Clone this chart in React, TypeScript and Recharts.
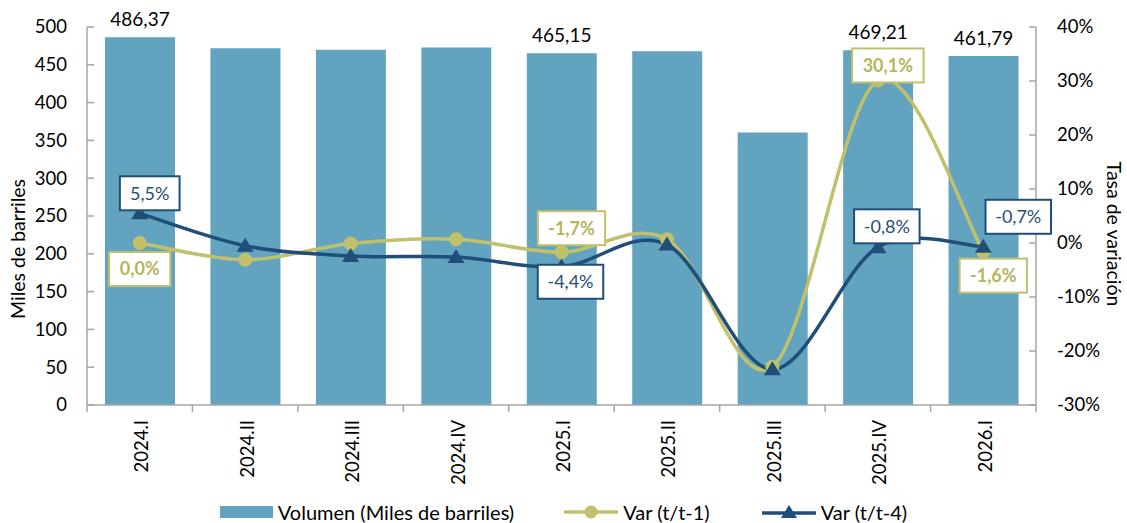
import { ComposedChart, Bar, Line, XAxis, YAxis, LabelList, Label } from 'recharts';

// trimestres
const periodos = ['2024.I', '2024.II', '2024.III', '2024.IV', '2025.I', '2025.II', '2025.III', '2025.IV', '2026.I'];
// volumen en miles de barriles
const volumen = [486.37, 472, 470, 473, 465.15, 468, 360.5, 469.21, 461.79];
// variación trimestral (%)
const varTrim = [0.0, -3.1, -0.1, 0.7, -1.7, 0.7, -22.9, 30.1, -1.6];
// variación anual (%)
const varAnual = [5.5, -0.5, -2.4, -2.6, -4.4, -0.3, -23.4, -0.8, -0.7];
// puntos con etiqueta visible
const conEtiqueta = [true, false, false, false, true, false, false, true, true];

const ticksIzq = [0, 50, 100, 150, 200, 250, 300, 350, 400, 450, 500];
const ticksDer = [-30, -20, -10, 0, 10, 20, 30, 40];

const AZUL_BARRA = '#62A4C0';
const OLIVA = '#C1C06B';
const OLIVA_TEXTO = '#B7B55C';
const MARINO = '#1F4E7A';
const GRIS = '#A6A6A6';
const FUENTE = 'Lato, "Open Sans", sans-serif';

// desplazamiento de las cajas de etiqueta respecto al punto
const posTrim: Record<number, [number, number]> = { 0: [0, 26], 4: [10, -24], 7: [10, -15], 8: [10, 24] };
const posAnual: Record<number, [number, number]> = { 0: [10, -20], 4: [9, 15], 7: [9, -21], 8: [35, -30] };

const datos = periodos.map((p, i) => ({
  periodo: p,
  volumen: volumen[i],
  varTrim: varTrim[i],
  varAnual: varAnual[i],
  etqVol: conEtiqueta[i] ? volumen[i] : null,
  etqTrim: conEtiqueta[i] ? varTrim[i] : null,
  etqAnual: conEtiqueta[i] ? varAnual[i] : null,
}));

const coma = (v: number, d: number) => v.toFixed(d).replace('.', ',');

// ancho aproximado del texto (Lato 17.5px)
const anchoTexto = (s: string, negrita: boolean) => {
  let w = 0;
  for (const c of s) {
    if (c === ',') w += 4.4;
    else if (c === '%') w += 14.5;
    else if (c === '-') w += 5.8;
    else w += 9.9;
  }
  return negrita ? w * 1.04 : w;
};

// suavizado tipo Excel (Catmull-Rom)
const curvaSuave = (context: any) => {
  let pts: number[][] = [];
  return {
    areaStart() {},
    areaEnd() {},
    lineStart() {
      pts = [];
    },
    point(x: number, y: number) {
      pts.push([+x, +y]);
    },
    lineEnd() {
      const n = pts.length;
      if (!n) return;
      context.moveTo(pts[0][0], pts[0][1]);
      for (let i = 0; i < n - 1; i++) {
        const p0 = pts[Math.max(i - 1, 0)];
        const p1 = pts[i];
        const p2 = pts[i + 1];
        const p3 = pts[Math.min(i + 2, n - 1)];
        context.bezierCurveTo(
          p1[0] + (p2[0] - p0[0]) / 6,
          p1[1] + (p2[1] - p0[1]) / 6,
          p2[0] - (p3[0] - p1[0]) / 6,
          p2[1] - (p3[1] - p1[1]) / 6,
          p2[0],
          p2[1],
        );
      }
    },
  };
};

const TickPeriodo = (props: any) => {
  const { x, y, payload, index, visibleTicksCount } = props;
  const paso = (payload?.offset ?? 52.7) * 2;
  const ultimo = index === (visibleTicksCount ?? periodos.length) - 1;
  return (
    <g>
      <line x1={x - paso / 2} x2={x - paso / 2} y1={y - 8} y2={y - 1} stroke={GRIS} strokeWidth={1.5} />
      {ultimo && <line x1={x + paso / 2} x2={x + paso / 2} y1={y - 8} y2={y - 1} stroke={GRIS} strokeWidth={1.5} />}
      <text
        transform={`translate(${x + 2},${y + 7}) rotate(-90)`}
        textAnchor="end"
        dy="0.35em"
        fontSize={18.5}
        fontFamily={FUENTE}
        fill="#000"
      >
        {payload.value}
      </text>
    </g>
  );
};

const TickIzq = (props: any) => {
  const { x, y, payload } = props;
  return (
    <g>
      <line x1={x + 20} x2={x + 27} y1={y} y2={y} stroke={GRIS} strokeWidth={1.5} />
      <text x={x} y={y} dy="0.35em" textAnchor="end" fontSize={18.5} fontFamily={FUENTE} fill="#000">
        {payload.value}
      </text>
    </g>
  );
};

const TickDer = (props: any) => {
  const { x, y, payload } = props;
  return (
    <g>
      <line x1={x - 21} x2={x - 28} y1={y} y2={y} stroke={GRIS} strokeWidth={1.5} />
      <text x={x} y={y} dy="0.35em" textAnchor="start" fontSize={18.5} fontFamily={FUENTE} fill="#000">
        {`${payload.value}%`}
      </text>
    </g>
  );
};

const EtiquetaBarra = (props: any) => {
  const { value } = props;
  if (value == null) return null;
  const vb = props.viewBox ?? props;
  const cx = vb.x + (vb.width ?? 0) / 2;
  const top = Math.min(vb.y, vb.y + (vb.height ?? 0));
  return (
    <text x={cx} y={top - 11} textAnchor="middle" fontSize={19} fontFamily={FUENTE} fill="#000">
      {coma(value, 2)}
    </text>
  );
};

const cajaEtiqueta = (pos: Record<number, [number, number]>, color: string, texto: string, negrita: boolean) => {
  const Caja = (props: any) => {
    const { value, index } = props;
    if (value == null) return null;
    const vb = props.viewBox ?? props;
    const px = vb.x + (vb.width ?? 0) / 2;
    const py = vb.y + (vb.height ?? 0) / 2;
    const [dx, dy] = pos[index] ?? [0, -24];
    const s = `${coma(value, 1)}%`;
    const w = anchoTexto(s, negrita) + 21;
    const h = 34;
    return (
      <g>
        <rect x={px + dx - w / 2} y={py + dy - h / 2} width={w} height={h} fill="#fff" stroke={color} strokeWidth={2} />
        <text
          x={px + dx}
          y={py + dy}
          dy="0.36em"
          textAnchor="middle"
          fontSize={18}
          fontWeight={negrita ? 700 : 400}
          fontFamily={FUENTE}
          fill={texto}
        >
          {s}
        </text>
      </g>
    );
  };
  return Caja;
};

const PuntoCirculo = (props: any) => {
  const { cx, cy, index } = props;
  return <circle key={`c-${index}`} cx={cx} cy={cy} r={7} fill={OLIVA} />;
};

const PuntoTriangulo = (props: any) => {
  const { cx, cy, index } = props;
  return <path key={`t-${index}`} d={`M${cx},${cy - 8}L${cx + 8.5},${cy + 6}L${cx - 8.5},${cy + 6}Z`} fill={MARINO} />;
};

const tituloEje = (texto: string, cx: number, cy: number, angulo: number) => () => (
  <text
    x={cx}
    y={cy}
    transform={`rotate(${angulo},${cx},${cy})`}
    textAnchor="middle"
    dy="0.35em"
    fontSize={19.5}
    fontFamily={FUENTE}
    fill="#000"
  >
    {texto}
  </text>
);

const Leyenda = () => (
  <div
    style={{
      position: 'absolute',
      top: 500,
      left: 0,
      width: 1127,
      display: 'flex',
      justifyContent: 'center',
      alignItems: 'center',
      fontFamily: FUENTE,
      fontSize: 20,
      color: '#000',
    }}
  >
    <span style={{ display: 'inline-block', width: 53, height: 12, background: AZUL_BARRA, marginRight: 5 }} />
    <span style={{ marginRight: 50 }}>Volumen (Miles de barriles)</span>
    <svg width={54} height={16} style={{ marginRight: 5 }}>
      <line x1={0} x2={54} y1={8} y2={8} stroke={OLIVA} strokeWidth={3.5} />
      <circle cx={27} cy={8} r={6.5} fill={OLIVA} />
    </svg>
    <span style={{ marginRight: 52 }}>Var (t/t-1)</span>
    <svg width={54} height={16} style={{ marginRight: 5 }}>
      <line x1={0} x2={54} y1={9} y2={9} stroke={MARINO} strokeWidth={3.5} />
      <path d="M27,1L35,14L19,14Z" fill={MARINO} />
    </svg>
    <span>Var (t/t-4)</span>
  </div>
);

export default function App() {
  return (
    <div style={{ position: 'relative', width: 1127, height: 523, background: '#fff' }}>
      <style>{'body{margin:0}'}</style>
      <ComposedChart
        width={1127}
        height={523}
        data={datos}
        margin={{ top: 27, right: 31, left: 27, bottom: 33 }}
        barCategoryGap={0}
      >
        <XAxis
          dataKey="periodo"
          height={85}
          tickSize={0}
          tickMargin={8}
          tickLine={false}
          axisLine={{ stroke: GRIS, strokeWidth: 1.5 }}
          tick={<TickPeriodo />}
          interval={0}
        />
        <YAxis
          yAxisId="izq"
          width={60}
          domain={[0, 500]}
          ticks={ticksIzq}
          tickSize={0}
          tickMargin={20}
          tickLine={false}
          axisLine={{ stroke: GRIS, strokeWidth: 1.5 }}
          tick={<TickIzq />}
          interval={0}
        >
          <Label content={tituloEje('Miles de barriles', 18, 249, -90)} />
        </YAxis>
        <YAxis
          yAxisId="der"
          orientation="right"
          width={60}
          domain={[-30, 40]}
          ticks={ticksDer}
          tickSize={0}
          tickMargin={21}
          tickLine={false}
          axisLine={{ stroke: GRIS, strokeWidth: 1.5 }}
          tick={<TickDer />}
          interval={0}
        >
          <Label content={tituloEje('Tasa de variación', 1114, 234, 90)} />
        </YAxis>
        <Bar yAxisId="izq" dataKey="volumen" fill={AZUL_BARRA} barSize={70} isAnimationActive={false}>
          <LabelList dataKey="etqVol" content={EtiquetaBarra} />
        </Bar>
        <Line
          yAxisId="der"
          dataKey="varTrim"
          type={curvaSuave as any}
          stroke={OLIVA}
          strokeWidth={3.5}
          dot={PuntoCirculo}
          activeDot={false}
          isAnimationActive={false}
        >
          <LabelList dataKey="etqTrim" content={cajaEtiqueta(posTrim, OLIVA, OLIVA_TEXTO, true)} />
        </Line>
        <Line
          yAxisId="der"
          dataKey="varAnual"
          type={curvaSuave as any}
          stroke={MARINO}
          strokeWidth={3.5}
          dot={PuntoTriangulo}
          activeDot={false}
          isAnimationActive={false}
        >
          <LabelList dataKey="etqAnual" content={cajaEtiqueta(posAnual, MARINO, MARINO, false)} />
        </Line>
      </ComposedChart>
      <Leyenda />
    </div>
  );
}
